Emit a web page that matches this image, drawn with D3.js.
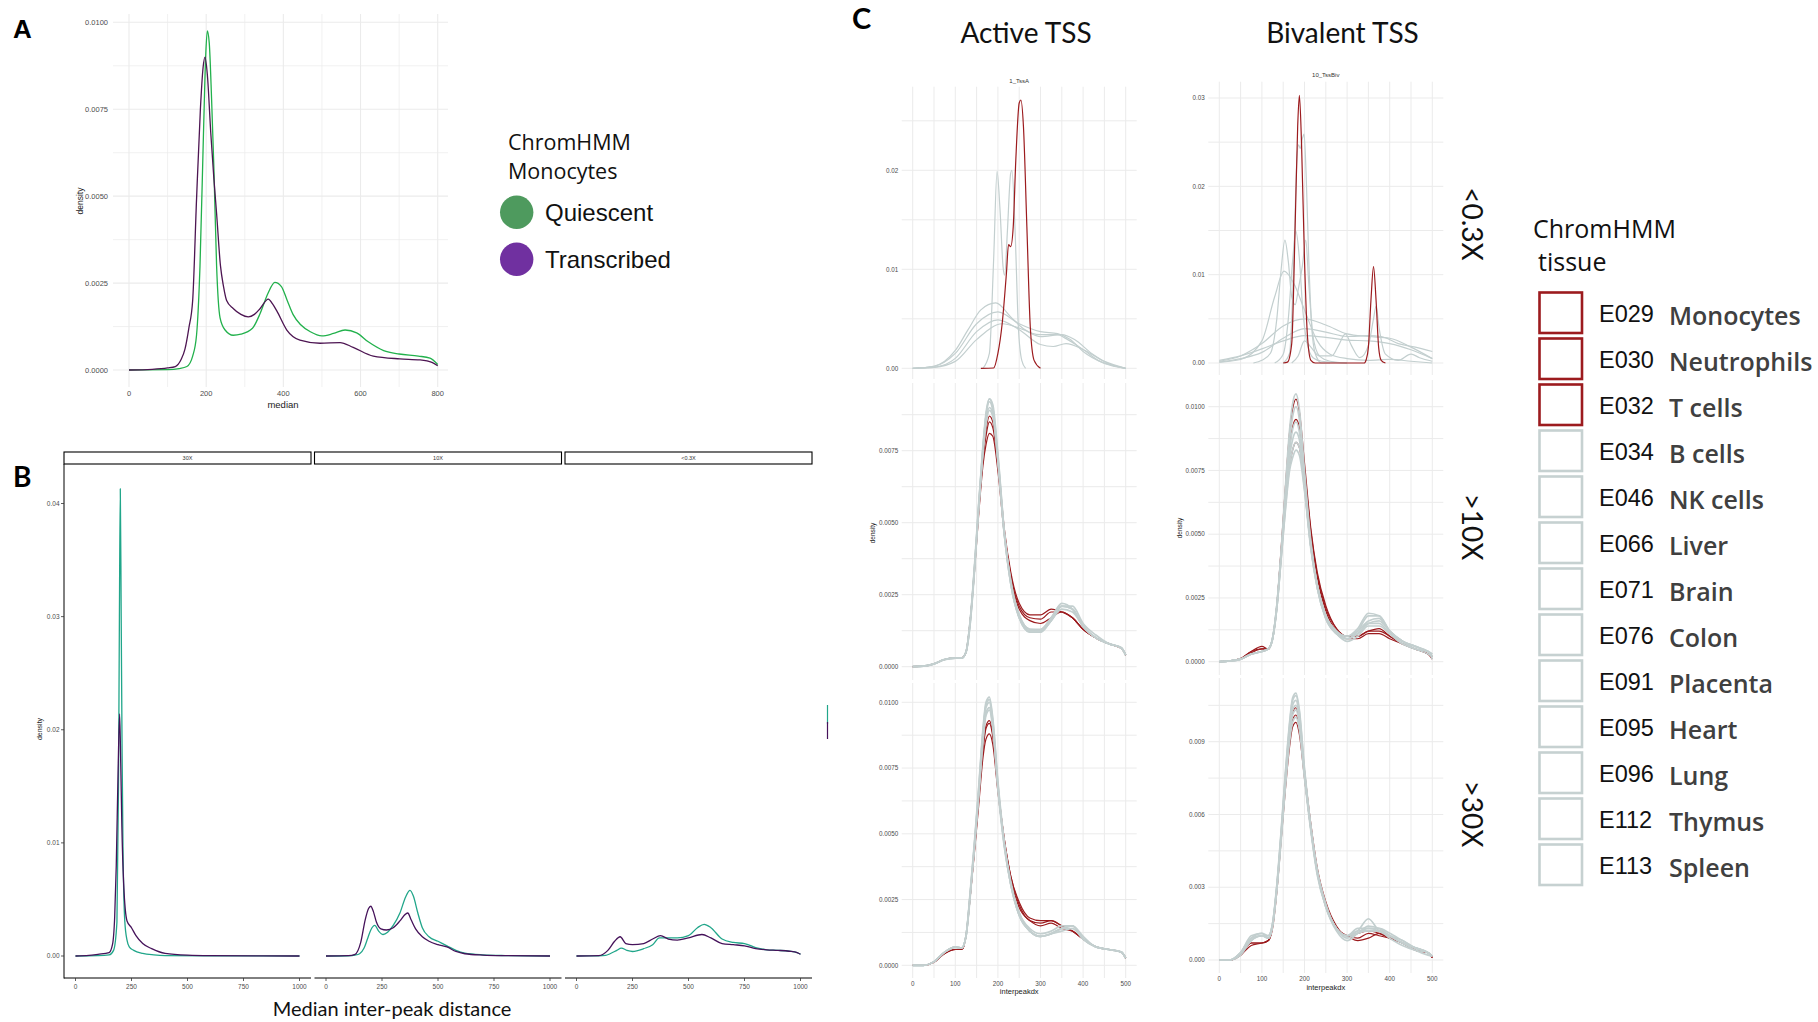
<!DOCTYPE html>
<html>
<head>
<meta charset="utf-8">
<script src="https://cdn.jsdelivr.net/npm/d3@7"></script>
<style>
  body { margin: 0; background: #fff; }
  svg { display: block; }
</style>
</head>
<body>
<svg></svg>
<script>
// ---------- data ----------
// Panel A: density of median inter-peak distance, monocytes
var quiescentA = [[0,0],[100,0.00001],[130,0.00004],[150,0.0001],[165,0.0004],[175,0.001],[184,0.003],[193,0.0068],[199,0.0091],[203,0.00975],[208,0.0094],[214,0.0078],[220,0.0058],[227,0.003],[236,0.0015],[249,0.00115],[270,0.001],[290,0.00103],[320,0.0012],[340,0.00163],[360,0.0022],[378,0.00252],[395,0.0024],[410,0.002],[425,0.0016],[445,0.0013],[470,0.0011],[500,0.00098],[530,0.00105],[560,0.00115],[590,0.00107],[620,0.00081],[660,0.00056],[700,0.00046],[750,0.0004],[780,0.00034],[800,0.00016]];
var transcribedA = [[0,0],[60,0.00002],[100,0.00006],[120,0.0001],[135,0.0003],[145,0.0006],[155,0.0012],[165,0.002],[175,0.0049],[185,0.0075],[192,0.0087],[197,0.009],[203,0.0085],[212,0.0068],[220,0.0055],[227,0.0045],[237,0.003],[245,0.0024],[253,0.002],[270,0.00177],[290,0.0016],[309,0.00153],[325,0.0016],[340,0.00177],[361,0.00204],[372,0.0019],[383,0.0017],[409,0.00115],[443,0.00086],[495,0.00077],[547,0.00079],[581,0.00065],[633,0.0004],[702,0.00032],[754,0.00029],[785,0.00022],[800,0.00012]];
var legendA = ["Quiescent", "Transcribed"];

// Panel B: facets by coverage
var facetsB = ["30X", "10X", "<0.3X"];
var quiescentB30 = [[0,0],[100,0.00003],[150,0.0001],[170,0.0005],[185,0.003],[192,0.015],[196,0.03],[200,0.0413],[204,0.03],[208,0.018],[212,0.0096],[220,0.0031],[230,0.0014],[240,0.0008],[260,0.0005],[300,0.00023],[350,0.0001],[400,0.00004],[600,0.00001],[1000,0]];
var transcribedB30 = [[0,0],[60,0.00005],[100,0.00015],[150,0.0003],[165,0.001],[175,0.0035],[182,0.008],[190,0.0162],[197,0.0214],[202,0.017],[207,0.0115],[215,0.0064],[230,0.0031],[250,0.0025],[270,0.0018],[300,0.0011],[340,0.00065],[400,0.00023],[500,0.00007],[600,0.00003],[1000,0]];
var quiescentB10 = [[0,0],[100,0.00002],[130,0.00008],[150,0.0002],[170,0.0007],[185,0.0015],[200,0.0023],[218,0.0027],[235,0.0022],[255,0.0019],[275,0.0021],[300,0.0027],[330,0.0038],[355,0.0052],[375,0.0058],[390,0.0053],[410,0.0038],[430,0.0025],[460,0.0017],[500,0.0013],[540,0.0009],[580,0.0005],[620,0.00025],[700,0.0001],[800,0.00004],[1000,0]];
var transcribedB10 = [[0,0],[100,0.00003],[130,0.00015],[155,0.0012],[175,0.0032],[190,0.0042],[200,0.0044],[212,0.0039],[225,0.003],[245,0.0024],[270,0.0023],[300,0.0025],[330,0.0031],[355,0.0037],[365,0.0038],[380,0.0032],[400,0.0024],[430,0.0017],[460,0.0013],[500,0.001],[540,0.0008],[580,0.0004],[620,0.0002],[700,0.00008],[800,0.00003],[1000,0]];
var quiescentB03 = [[0,0],[100,0.00001],[130,0.00005],[150,0.0002],[180,0.0005],[200,0.0007],[225,0.0005],[250,0.0004],[300,0.00065],[340,0.001],[370,0.0016],[400,0.0016],[450,0.0016],[500,0.0018],[540,0.0025],[570,0.0028],[600,0.0025],[650,0.0015],[700,0.0012],[750,0.0011],[800,0.00075],[850,0.00055],[900,0.0005],[950,0.00042],[985,0.0003],[1000,0.00015]];
var transcribedB03 = [[0,0],[100,0.00003],[140,0.0005],[170,0.0013],[195,0.0017],[220,0.0011],[250,0.001],[300,0.0011],[340,0.0015],[375,0.0018],[410,0.0015],[450,0.0014],[500,0.0016],[560,0.0019],[600,0.0016],[650,0.0011],[700,0.001],[750,0.0009],[800,0.00065],[850,0.00055],[900,0.0005],[950,0.00042],[985,0.0003],[1000,0.00015]];

// Panel C: legend
var tissueCodes = ["E029","E030","E032","E034","E046","E066","E071","E076","E091","E095","E096","E112","E113"];
var tissueNames = ["Monocytes","Neutrophils","T cells","B cells","NK cells","Liver","Brain","Colon","Placenta","Heart","Lung","Thymus","Spleen"];
var bloodTissues = ["E029","E030","E032"];
var columnTitles = ["Active TSS", "Bivalent TSS"];
var rowTitles = ["<0.3X", ">10X", ">30X"];

// Panel C, top row (<0.3X): [x, density] pairs
var actTopRed = [[[160,0],[190,0.00003],[200,0.0015],[210,0.0045],[220,0.0096],[225,0.0125],[230,0.0123],[236,0.0143],[242,0.021],[250,0.0268],[254,0.0271],[260,0.0244],[268,0.0143],[276,0.0042],[285,0.0008],[300,0]]];
var actTopGrey = [
  [[165,0],[180,0.0015],[190,0.011],[198,0.0199],[205,0.016],[212,0.0103],[216,0.0094],[222,0.0136],[230,0.0197],[233,0.02],[240,0.0143],[248,0.0042],[256,0.0008],[265,0]],
  [[0,0],[50,0.0002],[100,0.0018],[130,0.0039],[160,0.0059],[195,0.0066],[230,0.0052],[260,0.004],[300,0.0034],[340,0.0034],[360,0.003],[400,0.0019],[440,0.0007],[480,0.0002],[500,0]],
  [[0,0],[50,0.0002],[100,0.0015],[150,0.0045],[200,0.0057],[250,0.0045],[300,0.0037],[340,0.0035],[370,0.0029],[400,0.0017],[450,0.0005],[500,0]],
  [[0,0],[50,0.0001],[100,0.001],[150,0.0037],[200,0.0049],[250,0.0039],[300,0.0024],[330,0.0022],[360,0.0025],[400,0.0019],[450,0.0007],[500,0]],
  [[0,0],[50,0.0001],[100,0.0007],[150,0.0029],[210,0.0045],[260,0.0039],[300,0.0032],[350,0.0034],[380,0.0029],[420,0.0015],[470,0.0003],[500,0]]
];
var bivTopRed = [[[150,0],[160,0.0001],[170,0.0022],[178,0.0154],[184,0.0268],[188,0.0303],[193,0.0249],[200,0.0117],[207,0.003],[215,0.0003],[225,0],[340,0],[345,0.0004],[350,0.0018],[356,0.0071],[362,0.0109],[368,0.0071],[374,0.0018],[380,0.0003],[390,0]]];
var bivTopGrey = [
  [[150,0],[165,0.0011],[175,0.0117],[182,0.023],[186,0.0247],[190,0.0243],[195,0.0254],[199,0.0259],[204,0.0211],[210,0.0117],[217,0.0041],[225,0.0011],[240,0],[260,0]],
  [[80,0],[100,0.0003],[120,0.0011],[135,0.005],[145,0.0105],[154,0.0139],[162,0.0115],[170,0.0075],[178,0.0066],[186,0.0085],[195,0.011],[203,0.0139],[210,0.009],[220,0.003],[235,0.0008],[260,0.0002],[300,0]],
  [[0,0.0001],[50,0.0004],[100,0.0025],[130,0.0075],[152,0.0104],[175,0.009],[200,0.006],[230,0.0025],[260,0.001],[300,0.0005],[350,0.0003],[400,0.0004],[450,0.0002],[500,0]],
  [[130,0],[150,0.001],[162,0.005],[172,0.0115],[180,0.0149],[188,0.0118],[196,0.006],[205,0.0025],[220,0.0006],[240,0.0002],[300,0]],
  [[170,0],[185,0.0008],[200,0.0025],[215,0.0018],[235,0.0008],[264,0.0008],[280,0.002],[296,0.0033],[310,0.002],[330,0.0006],[350,0.002],[362,0.005],[368,0.0064],[375,0.004],[390,0.001],[420,0.0003],[450,0.001],[470,0.0006],[500,0.0002]],
  [[0,0.0002],[50,0.0008],[100,0.0022],[150,0.0042],[200,0.005],[250,0.0043],[300,0.0033],[350,0.003],[400,0.0028],[450,0.0018],[500,0.0005]],
  [[0,0.0001],[50,0.0005],[100,0.0012],[150,0.0028],[200,0.0039],[250,0.0035],[300,0.003],[350,0.0031],[380,0.003],[420,0.0022],[460,0.0018],[500,0.0013]],
  [[0,0.0003],[50,0.0008],[100,0.0016],[150,0.0025],[200,0.0031],[250,0.0029],[300,0.0026],[350,0.0025],[400,0.0022],[450,0.0015],[500,0.0005]]
];

// Panel C, middle and bottom rows share one x grid
var interpeakX = [0,25,50,75,100,115,125,135,145,155,165,172,180,188,200,215,230,250,275,300,325,350,375,400,430,460,490,500];

var actMidGrey = [
  [0,0.00002,0.0001,0.00025,0.0003,0.0003,0.0005,0.0016,0.0034,0.0056,0.0076,0.0087,0.0093,0.0090,0.0073,0.0047,0.0030,0.0018,0.0013,0.0013,0.0017,0.0022,0.0020,0.0014,0.0010,0.0008,0.00065,0.0004],
  [0,0.00002,0.0001,0.00026,0.0003,0.0003,0.0005,0.0016,0.0035,0.0057,0.0076,0.0087,0.0092,0.0089,0.0072,0.0046,0.0029,0.0017,0.00125,0.00125,0.0016,0.0021,0.0020,0.0014,0.0010,0.0008,0.00066,0.0004],
  [0,0.00002,0.0001,0.00025,0.0003,0.0003,0.0005,0.0015,0.0034,0.0055,0.0075,0.0085,0.0090,0.0088,0.0072,0.0046,0.0029,0.0017,0.0012,0.0012,0.0016,0.0020,0.0019,0.0014,0.0010,0.0008,0.00064,0.0004],
  [0,0.00002,0.0001,0.00024,0.0003,0.0003,0.0005,0.0015,0.0033,0.0055,0.0074,0.0084,0.0089,0.0087,0.0071,0.0046,0.0030,0.0018,0.0013,0.00128,0.0017,0.0021,0.0020,0.0014,0.0010,0.0008,0.00065,0.0004],
  [0,0.00002,0.0001,0.00025,0.0003,0.0003,0.0005,0.0016,0.0034,0.0056,0.0077,0.0088,0.0093,0.0091,0.0074,0.0047,0.0029,0.0017,0.0012,0.0012,0.0016,0.0021,0.0021,0.0015,0.0011,0.0008,0.00066,0.0004]
];
var actMidRed = [
  [0,0.00002,0.0001,0.00025,0.0003,0.0003,0.0005,0.0016,0.0034,0.0055,0.0073,0.0082,0.0087,0.0085,0.0071,0.0048,0.0033,0.0022,0.0018,0.0018,0.0020,0.0019,0.0017,0.0013,0.0010,0.0008,0.00064,0.0004],
  [0,0.00002,0.0001,0.00025,0.0003,0.0003,0.0005,0.0016,0.0034,0.0054,0.0072,0.0080,0.0085,0.0083,0.0070,0.0047,0.0032,0.0021,0.0017,0.00165,0.0019,0.0019,0.0017,0.0013,0.0010,0.0008,0.00064,0.0004],
  [0,0.00002,0.0001,0.00025,0.0003,0.0003,0.0005,0.0016,0.0033,0.0053,0.0070,0.0077,0.0081,0.0080,0.0068,0.0046,0.0031,0.0020,0.0016,0.0015,0.0017,0.0019,0.0017,0.0013,0.0010,0.0008,0.00064,0.0004]
];
var bivMidGrey = [
  [0,0.00003,0.0001,0.0003,0.0004,0.0005,0.0009,0.0022,0.0043,0.0068,0.0091,0.0101,0.0105,0.0099,0.0075,0.0047,0.0030,0.0018,0.0012,0.0010,0.0013,0.0019,0.0018,0.0012,0.0008,0.0006,0.0004,0.0003],
  [0,0.00003,0.0001,0.0003,0.0004,0.0005,0.0009,0.0022,0.0042,0.0066,0.0087,0.0096,0.0100,0.0095,0.0072,0.0046,0.0030,0.0018,0.0012,0.0009,0.0012,0.0018,0.0018,0.0012,0.0008,0.0006,0.0004,0.0003],
  [0,0.00003,0.0001,0.0003,0.0004,0.0005,0.0009,0.0022,0.0042,0.0064,0.0083,0.0091,0.0094,0.0090,0.0070,0.0045,0.0030,0.0018,0.0012,0.0010,0.0012,0.0016,0.0017,0.0012,0.0008,0.0006,0.0004,0.0002],
  [0,0.00003,0.0001,0.0003,0.0004,0.0005,0.0009,0.0021,0.0041,0.0062,0.0080,0.0087,0.0090,0.0087,0.0069,0.0045,0.0029,0.0017,0.0011,0.0009,0.0011,0.0015,0.0016,0.0012,0.0008,0.0005,0.0004,0.0002],
  [0,0.00003,0.0001,0.0003,0.0004,0.0005,0.0009,0.0021,0.0040,0.0060,0.0077,0.0083,0.0086,0.0084,0.0068,0.0045,0.0029,0.0017,0.0011,0.0008,0.0010,0.0014,0.0014,0.0011,0.0007,0.0005,0.0003,0.0002],
  [0,0.00003,0.0001,0.0003,0.0004,0.0005,0.0009,0.0021,0.0040,0.0059,0.0075,0.0080,0.0083,0.0081,0.0067,0.0044,0.0029,0.0017,0.0011,0.0009,0.0011,0.0015,0.0015,0.0011,0.0007,0.0005,0.0004,0.0001]
];
var bivMidRed = [
  [0,0.00003,0.00012,0.0004,0.0005,0.0005,0.0009,0.0022,0.0044,0.0068,0.0090,0.0099,0.0103,0.0098,0.0078,0.0052,0.0035,0.0022,0.0013,0.0010,0.0010,0.0012,0.0013,0.0010,0.0007,0.0005,0.0003,0.0002],
  [0,0.00003,0.00012,0.0004,0.0006,0.0005,0.0009,0.0022,0.0043,0.0065,0.0084,0.0092,0.0095,0.0092,0.0075,0.0051,0.0034,0.0021,0.0013,0.0010,0.0010,0.0012,0.0012,0.0010,0.0007,0.0005,0.0003,0.0002],
  [0,0.00003,0.00012,0.00035,0.0005,0.0005,0.0009,0.0021,0.0041,0.0061,0.0077,0.0083,0.0086,0.0084,0.0070,0.0049,0.0033,0.0020,0.0012,0.0009,0.0009,0.0011,0.0011,0.0009,0.0007,0.0005,0.0003,0.0001]
];
var actBotGrey = [
  [0,0,0.00014,0.0005,0.0007,0.00066,0.0011,0.0028,0.0047,0.0068,0.0090,0.0100,0.0102,0.0094,0.0070,0.0047,0.0032,0.0020,0.0014,0.0012,0.0013,0.0015,0.0015,0.0010,0.0007,0.0006,0.0005,0.00027],
  [0,0,0.00014,0.0005,0.0007,0.00066,0.0011,0.0027,0.0046,0.0067,0.0089,0.0099,0.0101,0.0093,0.0069,0.0046,0.0031,0.0020,0.0013,0.0011,0.0012,0.0014,0.0015,0.0010,0.0007,0.0006,0.0005,0.00027],
  [0,0,0.00013,0.0005,0.00068,0.00065,0.0011,0.0027,0.0046,0.0066,0.0088,0.0098,0.0100,0.0092,0.0068,0.0046,0.0031,0.0019,0.0013,0.0011,0.0012,0.0014,0.0014,0.0010,0.0007,0.0006,0.0005,0.00027],
  [0,0,0.00013,0.0005,0.00068,0.00065,0.0011,0.0027,0.0045,0.0065,0.0086,0.0096,0.0098,0.0091,0.0068,0.0046,0.0031,0.0019,0.0013,0.0011,0.0012,0.0013,0.0014,0.0010,0.0007,0.0006,0.0005,0.00027],
  [0,0,0.00014,0.0005,0.0007,0.00066,0.0011,0.0026,0.0045,0.0064,0.0085,0.0095,0.0097,0.0090,0.0067,0.0045,0.0031,0.0019,0.0013,0.0011,0.0012,0.0014,0.0015,0.0011,0.0007,0.0006,0.0005,0.00027]
];
var actBotRed = [
  [0,0,0.00012,0.00045,0.0006,0.0006,0.0011,0.0027,0.0045,0.0064,0.0083,0.0091,0.0093,0.0088,0.0068,0.0048,0.0034,0.0024,0.0018,0.0017,0.0017,0.0015,0.0013,0.0010,0.0007,0.0006,0.0005,0.00027],
  [0,0,0.00012,0.00045,0.0006,0.0006,0.0011,0.0026,0.0044,0.0063,0.0082,0.0090,0.0092,0.0087,0.0067,0.0048,0.0034,0.0023,0.0017,0.0016,0.0017,0.0015,0.0013,0.0010,0.0007,0.0006,0.0005,0.00027],
  [0,0,0.00012,0.00045,0.0006,0.0006,0.0011,0.0026,0.0043,0.0061,0.0079,0.0086,0.0088,0.0084,0.0066,0.0047,0.0033,0.0022,0.0017,0.0015,0.0016,0.0014,0.0013,0.0010,0.0007,0.0006,0.0005,0.00027]
];
var bivBotGrey = [
  [0,0,0.0003,0.0009,0.0010,0.0010,0.0015,0.0031,0.0053,0.0077,0.0098,0.0108,0.0110,0.0103,0.0079,0.0055,0.0037,0.0023,0.0013,0.0010,0.0012,0.0017,0.0012,0.0010,0.0008,0.0005,0.0003,0.00016],
  [0,0,0.0003,0.0010,0.0011,0.0010,0.0015,0.0030,0.0052,0.0076,0.0097,0.0107,0.0109,0.0102,0.0078,0.0055,0.0037,0.0023,0.0013,0.0010,0.0013,0.0013,0.0013,0.0011,0.0008,0.0005,0.0003,0.00016],
  [0,0,0.0003,0.0009,0.0011,0.0009,0.0014,0.0030,0.0051,0.0075,0.0095,0.0105,0.0107,0.0100,0.0077,0.0054,0.0036,0.0022,0.0013,0.0009,0.0011,0.0012,0.0012,0.0010,0.0007,0.0005,0.0003,0.00016],
  [0,0,0.0003,0.0008,0.0010,0.0010,0.0015,0.0030,0.0051,0.0074,0.0094,0.0103,0.0105,0.0099,0.0077,0.0054,0.0036,0.0022,0.0012,0.0008,0.0011,0.0014,0.0013,0.0010,0.0007,0.0004,0.0002,0.00016],
  [0,0,0.0002,0.0008,0.0010,0.0009,0.0014,0.0029,0.0050,0.0072,0.0092,0.0101,0.0103,0.0097,0.0076,0.0054,0.0036,0.0022,0.0013,0.0010,0.0012,0.0012,0.0012,0.0009,0.0006,0.0004,0.0003,0.00016],
  [0,0,0.0003,0.0009,0.0010,0.0009,0.0014,0.0029,0.0049,0.0071,0.0090,0.0098,0.0100,0.0095,0.0075,0.0053,0.0035,0.0022,0.0013,0.0010,0.0011,0.0013,0.0012,0.0010,0.0007,0.0005,0.0003,0.00016]
];
var bivBotRed = [
  [0,0,0.0002,0.0007,0.0007,0.0008,0.0014,0.0030,0.0051,0.0074,0.0094,0.0102,0.0104,0.0098,0.0078,0.0056,0.0038,0.0024,0.0014,0.0010,0.0011,0.0012,0.0011,0.0009,0.0007,0.0004,0.0003,0.0001],
  [0,0,0.0002,0.0007,0.0007,0.0008,0.0014,0.0029,0.0050,0.0072,0.0091,0.0099,0.0101,0.0096,0.0077,0.0055,0.0037,0.0023,0.0013,0.0010,0.0009,0.0011,0.0010,0.0009,0.0007,0.0004,0.0003,0.0001],
  [0,0,0.0002,0.0006,0.0007,0.0008,0.0013,0.0028,0.0049,0.0070,0.0088,0.0096,0.0098,0.0093,0.0075,0.0054,0.0037,0.0023,0.0013,0.0010,0.0008,0.0009,0.0011,0.0009,0.0007,0.0004,0.0003,0.0001]
];

// ---------- setup ----------
var width = 1818, height = 1022;
var svg = d3.select("svg").attr("width", width).attr("height", height);

var SANS = "'Liberation Sans', Arial, sans-serif";
var CAL = "Lato, 'Open Sans', sans-serif";
var OPEN = "'Open Sans', sans-serif";
var GRID = "#ebebeb", TICK = "#4d4d4d";
var RED = "#9c1b1e", GREY = "#c3cfcf";

function lineGen(x, y) {
  return d3.line().x(d => x(d[0])).y(d => y(d[1])).curve(d3.curveMonotoneX);
}

// ---------- panel A ----------
var gA = svg.append("g");
var ax = d3.scaleLinear().domain([0, 800]).range([129, 437.7]);
var ay = d3.scaleLinear().domain([0, 0.01]).range([370, 22.3]);

d3.range(0, 9).forEach(function(i) {
  gA.append("line").attr("x1", 113).attr("x2", 448)
    .attr("y1", ay(i * 0.00125)).attr("y2", ay(i * 0.00125))
    .attr("stroke", GRID).attr("stroke-width", i % 2 ? 0.7 : 1.1);
  gA.append("line").attr("x1", ax(i * 100)).attr("x2", ax(i * 100))
    .attr("y1", 14).attr("y2", 387)
    .attr("stroke", GRID).attr("stroke-width", i % 2 ? 0.7 : 1.1);
});
[0, 0.0025, 0.005, 0.0075, 0.01].forEach(function(t) {
  gA.append("text").attr("x", 108).attr("y", ay(t) + 2.6)
    .attr("text-anchor", "end").attr("font-family", SANS).attr("font-size", 7.5)
    .attr("fill", TICK).text(d3.format(".4f")(t));
});
[0, 200, 400, 600, 800].forEach(function(t) {
  gA.append("text").attr("x", ax(t)).attr("y", 396)
    .attr("text-anchor", "middle").attr("font-family", SANS).attr("font-size", 7.5)
    .attr("fill", TICK).text(t);
});
gA.append("text").attr("x", 283).attr("y", 407.5).attr("text-anchor", "middle")
  .attr("font-family", SANS).attr("font-size", 9.5).attr("fill", "#222").text("median");
gA.append("text").attr("transform", "translate(83,201) rotate(-90)").attr("text-anchor", "middle")
  .attr("font-family", SANS).attr("font-size", 8.5).attr("fill", "#222").text("density");

gA.append("path").attr("d", lineGen(ax, ay)(quiescentA))
  .attr("fill", "none").attr("stroke", "#22b14c").attr("stroke-width", 1.3);
gA.append("path").attr("d", lineGen(ax, ay)(transcribedA))
  .attr("fill", "none").attr("stroke", "#4d1552").attr("stroke-width", 1.3);

svg.append("text").attr("x", 13).attr("y", 38).attr("font-family", SANS)
  .attr("font-weight", "bold").attr("font-size", 26).text("A");

// legend A
var lgA = svg.append("g");
lgA.append("text").attr("x", 508).attr("y", 150).attr("font-family", OPEN)
  .attr("font-size", 21.5).attr("fill", "#111").text("ChromHMM");
lgA.append("text").attr("x", 508).attr("y", 179).attr("font-family", OPEN)
  .attr("font-size", 21.5).attr("fill", "#111").text("Monocytes");
var legendAColors = ["#4e9a5e", "#7030a0"];
legendA.forEach(function(name, i) {
  var cy = 212.3 + i * 47;
  lgA.append("circle").attr("cx", 516.7).attr("cy", cy).attr("r", 16.7).attr("fill", legendAColors[i]);
  lgA.append("text").attr("x", 545).attr("y", cy + 8.5).attr("font-family", SANS)
    .attr("font-size", 24).attr("fill", "#111").text(name);
});

// ---------- panel B ----------
var gB = svg.append("g");
var by = d3.scaleLinear().domain([0, 0.04]).range([956, 503.5]);
var facetLeft = [64, 314.5, 565], facetW = 247;
var seriesB = [[quiescentB30, transcribedB30], [quiescentB10, transcribedB10], [quiescentB03, transcribedB03]];

gB.append("line").attr("x1", 64).attr("x2", 64).attr("y1", 464).attr("y2", 978.5)
  .attr("stroke", "#000").attr("stroke-width", 1);
[0, 0.01, 0.02, 0.03, 0.04].forEach(function(t) {
  gB.append("line").attr("x1", 61).attr("x2", 64).attr("y1", by(t)).attr("y2", by(t))
    .attr("stroke", "#333").attr("stroke-width", 0.8);
  gB.append("text").attr("x", 59.5).attr("y", by(t) + 2.3).attr("text-anchor", "end")
    .attr("font-family", SANS).attr("font-size", 6.5).attr("fill", TICK)
    .text(d3.format(".2f")(t));
});

facetsB.forEach(function(f, i) {
  var l = facetLeft[i];
  var bx = d3.scaleLinear().domain([0, 1000]).range([l + 11.5, l + facetW - 11.5]);
  gB.append("rect").attr("x", l).attr("y", 452).attr("width", facetW).attr("height", 12)
    .attr("fill", "#fff").attr("stroke", "#000").attr("stroke-width", 1.1);
  gB.append("text").attr("x", l + facetW / 2).attr("y", 460.3).attr("text-anchor", "middle")
    .attr("font-family", SANS).attr("font-size", 5.5).attr("fill", "#333").text(f);
  gB.append("line").attr("x1", l).attr("x2", l + facetW).attr("y1", 978).attr("y2", 978)
    .attr("stroke", "#000").attr("stroke-width", 1);
  [0, 250, 500, 750, 1000].forEach(function(t) {
    gB.append("line").attr("x1", bx(t)).attr("x2", bx(t)).attr("y1", 978).attr("y2", 981)
      .attr("stroke", "#333").attr("stroke-width", 0.8);
    gB.append("text").attr("x", bx(t)).attr("y", 989).attr("text-anchor", "middle")
      .attr("font-family", SANS).attr("font-size", 6.5).attr("fill", TICK).text(t);
  });
  gB.append("path").attr("d", lineGen(bx, by)(seriesB[i][0]))
    .attr("fill", "none").attr("stroke", "#21a68a").attr("stroke-width", 1.3);
  gB.append("path").attr("d", lineGen(bx, by)(seriesB[i][1]))
    .attr("fill", "none").attr("stroke", "#45125a").attr("stroke-width", 1.3);
});
gB.append("text").attr("transform", "translate(42,729) rotate(-90)").attr("text-anchor", "middle")
  .attr("font-family", SANS).attr("font-size", 7).attr("fill", "#222").text("density");
gB.append("text").attr("x", 392).attr("y", 1016).attr("text-anchor", "middle")
  .attr("font-family", CAL).attr("font-size", 20).attr("fill", "#111").text("Median inter-peak distance");
// clipped legend key at the right edge
gB.append("line").attr("x1", 827.5).attr("x2", 827.5).attr("y1", 705).attr("y2", 724)
  .attr("stroke", "#21a68a").attr("stroke-width", 1.2);
gB.append("line").attr("x1", 827.5).attr("x2", 827.5).attr("y1", 722).attr("y2", 739)
  .attr("stroke", "#45125a").attr("stroke-width", 1.2);
svg.append("text").attr("x", 13).attr("y", 487).attr("font-family", CAL)
  .attr("font-weight", "bold").attr("font-size", 28).text("B");

// ---------- panel C ----------
var cPanels = [
  {x0: 912.7, top: 86.7, bottom: 379, zero: 368.3, ref: 0.01, refPix: 269.3, grid: 0.005, ticks: [0, 0.01, 0.02], fmt: ".2f",
   grey: actTopGrey, red: actTopRed, title: "1_TssA", titleY: 83},
  {x0: 1219.3, top: 81.7, bottom: 375, zero: 363, ref: 0.03, refPix: 98, grid: 0.005, ticks: [0, 0.01, 0.02, 0.03], fmt: ".2f",
   grey: bivTopGrey, red: bivTopRed, title: "10_TssBiv", titleY: 77},
  {x0: 912.7, top: 383, bottom: 680, zero: 666.7, ref: 0.0075, refPix: 450.7, grid: 0.00125, ticks: [0, 0.0025, 0.005, 0.0075], fmt: ".4f",
   grey: actMidGrey, red: actMidRed, yTitle: [875, 533], band: true},
  {x0: 1219.3, top: 380, bottom: 675, zero: 661.7, ref: 0.01, refPix: 406.7, grid: 0.00125, ticks: [0, 0.0025, 0.005, 0.0075, 0.01], fmt: ".4f",
   grey: bivMidGrey, red: bivMidRed, yTitle: [1182, 528], band: true},
  {x0: 912.7, top: 683, bottom: 978, zero: 965.3, ref: 0.01, refPix: 702.3, grid: 0.00125, ticks: [0, 0.0025, 0.005, 0.0075, 0.01], fmt: ".4f",
   grey: actBotGrey, red: actBotRed, xLabelY: 986, xTitleY: 994, band: true},
  {x0: 1219.3, top: 678, bottom: 973, zero: 960, ref: 0.009, refPix: 741.7, grid: 0.0015, ticks: [0, 0.003, 0.006, 0.009], fmt: ".3f",
   grey: bivBotGrey, red: bivBotRed, xLabelY: 981, xTitleY: 990, band: true}
];

cPanels.forEach(function(p) {
  var g = svg.append("g");
  var x = d3.scaleLinear().domain([0, 500]).range([p.x0, p.x0 + 213]);
  var y = d3.scaleLinear().domain([0, p.ref]).range([p.zero, p.refPix]);
  var left = p.x0 - 11, right = p.x0 + 224;
  var nH = Math.floor((p.zero - p.top) / (p.zero - y(p.grid)) + 0.001);
  d3.range(0, nH + 1).forEach(function(i) {
    g.append("line").attr("x1", left).attr("x2", right)
      .attr("y1", y(i * p.grid)).attr("y2", y(i * p.grid))
      .attr("stroke", GRID).attr("stroke-width", 1);
  });
  d3.range(0, 11).forEach(function(i) {
    g.append("line").attr("x1", x(i * 50)).attr("x2", x(i * 50))
      .attr("y1", p.top).attr("y2", p.bottom)
      .attr("stroke", GRID).attr("stroke-width", 1);
  });
  p.ticks.forEach(function(t) {
    g.append("text").attr("x", left - 3.5).attr("y", y(t) + 2.2).attr("text-anchor", "end")
      .attr("font-family", SANS).attr("font-size", 6.3).attr("fill", TICK)
      .text(d3.format(p.fmt)(t));
  });
  if (p.xLabelY) {
    [0, 100, 200, 300, 400, 500].forEach(function(t) {
      g.append("text").attr("x", x(t)).attr("y", p.xLabelY).attr("text-anchor", "middle")
        .attr("font-family", SANS).attr("font-size", 6.3).attr("fill", TICK).text(t);
    });
    g.append("text").attr("x", x(250)).attr("y", p.xTitleY).attr("text-anchor", "middle")
      .attr("font-family", SANS).attr("font-size", 7.5).attr("fill", "#222").text("interpeakdx");
  }
  if (p.title) {
    g.append("text").attr("x", x(250)).attr("y", p.titleY).attr("text-anchor", "middle")
      .attr("font-family", SANS).attr("font-size", 6).attr("fill", "#333").text(p.title);
  }
  if (p.yTitle) {
    g.append("text").attr("transform", "translate(" + p.yTitle[0] + "," + p.yTitle[1] + ") rotate(-90)")
      .attr("text-anchor", "middle").attr("font-family", SANS).attr("font-size", 6.5)
      .attr("fill", "#222").text("density");
  }
  var line = lineGen(x, y);
  var toPairs = function(s) { return typeof s[0] === "number" ? d3.zip(interpeakX, s) : s; };
  var drawGrey = function() {
    p.grey.forEach(function(s) {
      g.append("path").attr("d", line(toPairs(s))).attr("fill", "none")
        .attr("stroke", GREY).attr("stroke-width", p.band ? 1.7 : 1.2);
    });
  };
  var drawRed = function() {
    p.red.forEach(function(s) {
      g.append("path").attr("d", line(toPairs(s))).attr("fill", "none")
        .attr("stroke", RED).attr("stroke-width", 1.2);
    });
  };
  // blood tissues sit under the grey band in the dense panels
  if (p.band) { drawRed(); drawGrey(); } else { drawGrey(); drawRed(); }
});

svg.append("text").attr("x", 852).attr("y", 29).attr("font-family", CAL)
  .attr("font-weight", "bold").attr("font-size", 29).text("C");
[1026, 1342.5].forEach(function(cx, i) {
  svg.append("text").attr("x", cx).attr("y", 42.5).attr("text-anchor", "middle")
    .attr("font-family", CAL).attr("font-size", 28).attr("fill", "#111").text(columnTitles[i]);
});
[224, 527, 814].forEach(function(cy, i) {
  svg.append("text").attr("transform", "translate(1462," + cy + ") rotate(90)")
    .attr("text-anchor", "middle").attr("font-family", CAL).attr("font-size", 28)
    .attr("fill", "#111").text(rowTitles[i]);
});

// legend C
var lgC = svg.append("g");
lgC.append("text").attr("x", 1533).attr("y", 238).attr("font-family", OPEN)
  .attr("font-size", 25).attr("fill", "#111").text("ChromHMM");
lgC.append("text").attr("x", 1538).attr("y", 271).attr("font-family", OPEN)
  .attr("font-size", 25).attr("fill", "#111").text("tissue");
tissueCodes.forEach(function(code, i) {
  var top = 291.5 + i * 46;
  var isBlood = bloodTissues.indexOf(code) >= 0;
  lgC.append("rect").attr("x", 1539.5).attr("y", top + 1).attr("width", 42.5).attr("height", 40.5)
    .attr("fill", "#fff").attr("stroke", isBlood ? RED : "#c6d1d1").attr("stroke-width", 2.6);
  lgC.append("text").attr("x", 1599).attr("y", top + 30).attr("font-family", SANS)
    .attr("font-size", 23.5).attr("fill", "#111").text(code);
  lgC.append("text").attr("x", 1669).attr("y", top + 33).attr("font-family", OPEN)
    .attr("font-size", 25).attr("font-weight", 600).attr("fill", "#404040").text(tissueNames[i]);
});
</script>
</body>
</html>
